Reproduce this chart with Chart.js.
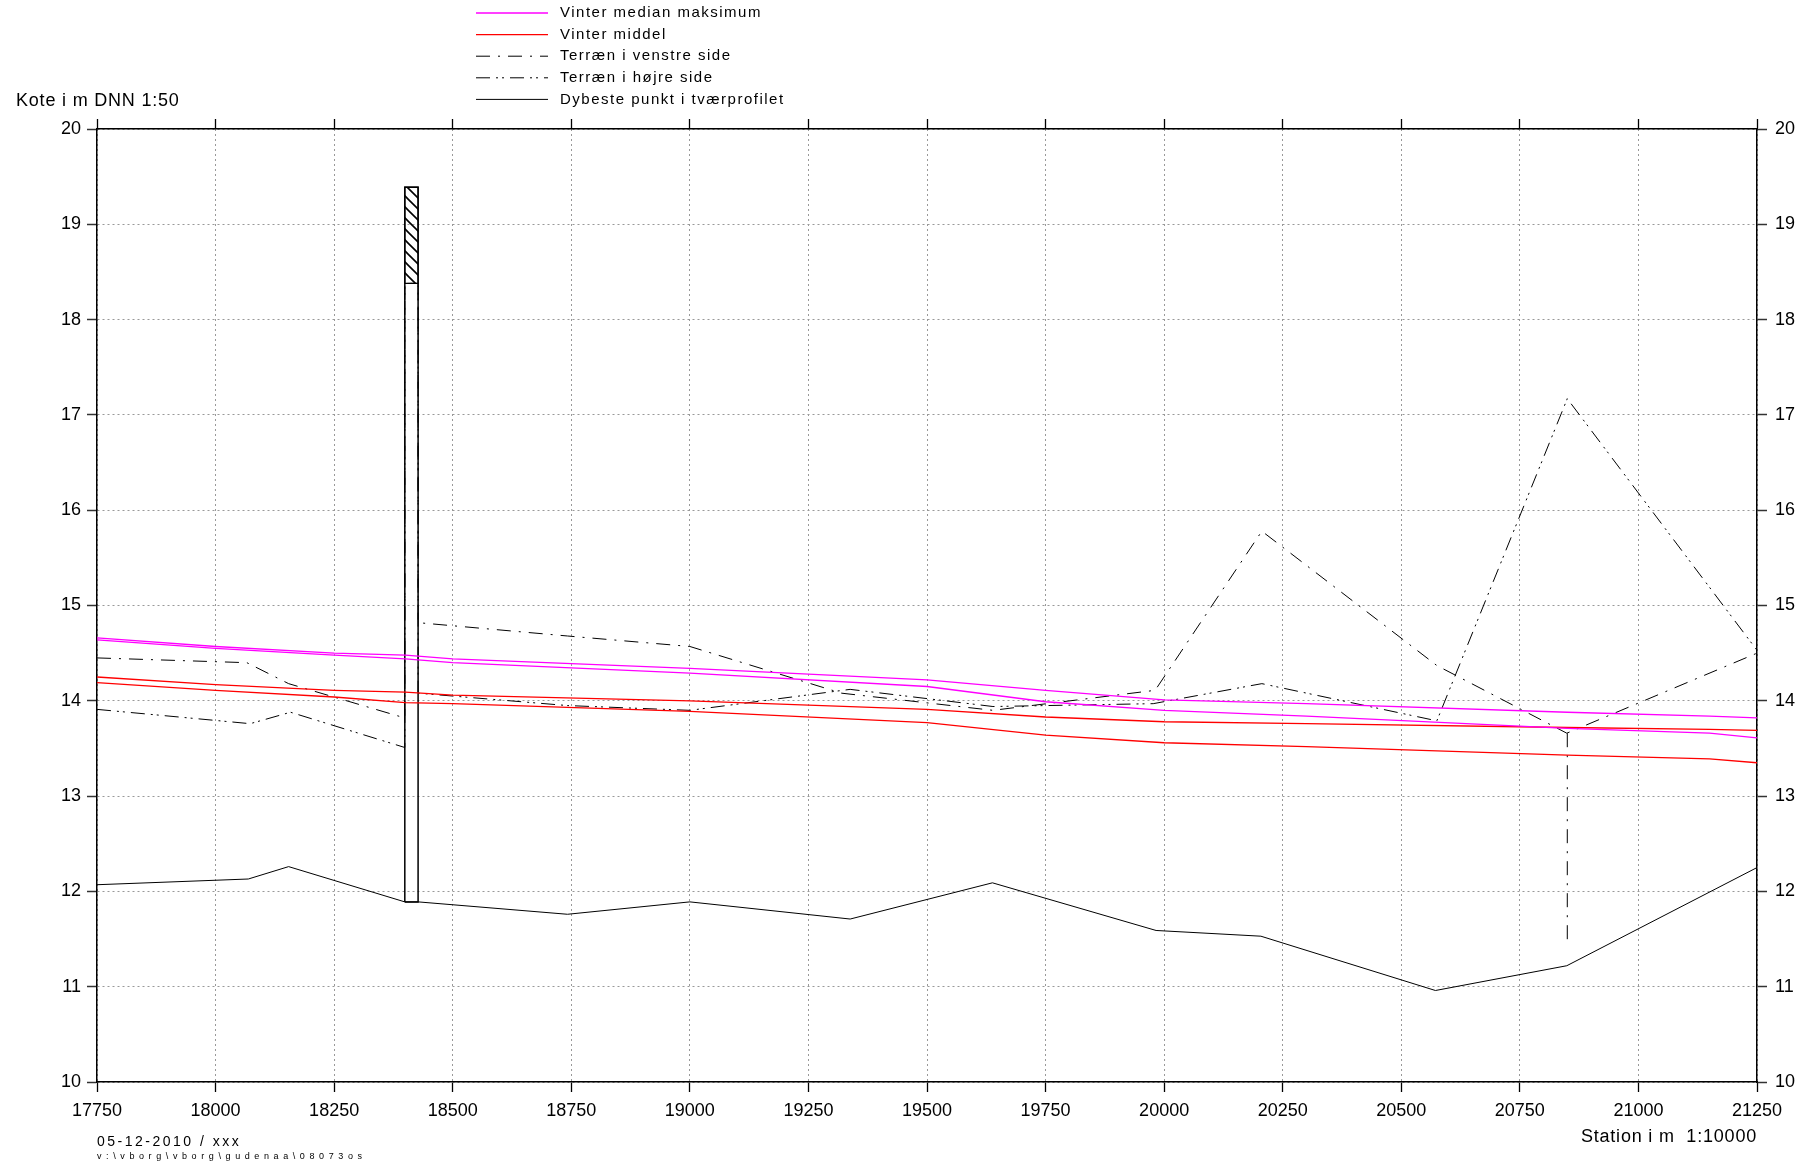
<!DOCTYPE html>
<html>
<head>
<meta charset="utf-8">
<script src="https://cdn.jsdelivr.net/npm/chart.js@4.4.0/dist/chart.umd.min.js"></script>
<style>
  html, body { margin: 0; padding: 0; background: #fff; }
</style>
</head>
<body>
<canvas id="chart" width="1809" height="1164"></canvas>
<script>
// water levels, two lines per colour (left / right bank)
const waterStations = [17750, 18000, 18250, 18400, 18500, 19000, 19500, 19750, 20000, 20300, 20850, 21150, 21250];
const medianMaxA = [14.66, 14.57, 14.50, 14.48, 14.44, 14.34, 14.22, 14.11, 14.01, 13.97, 13.88, 13.84, 13.82];
const medianMaxB = [14.64, 14.55, 14.48, 14.44, 14.40, 14.29, 14.15, 13.99, 13.90, 13.84, 13.71, 13.66, 13.61];
const middelA = [14.25, 14.17, 14.11, 14.09, 14.06, 14.00, 13.91, 13.83, 13.78, 13.76, 13.72, 13.70, 13.69];
const middelB = [14.19, 14.11, 14.04, 13.98, 13.97, 13.89, 13.77, 13.64, 13.56, 13.52, 13.43, 13.39, 13.35];

// terrain on both banks
const venstreStations = [17750, 18066, 18154, 18399, 18399, 18427, 18427, 18742, 19000, 19320, 19639, 19981, 20206, 20575, 20849, 21250];
const venstreLevels = [14.45, 14.40, 14.18, 13.82, 18.38, 18.38, 14.82, 14.68, 14.57, 14.08, 13.90, 14.11, 15.78, 14.37, 13.66, 14.50];
const hojreStations = [17750, 18073, 18158, 18399, 18399, 18427, 18427, 18742, 19000, 19338, 19639, 19977, 20206, 20575, 20850, 21250];
const hojreLevels = [13.91, 13.76, 13.88, 13.51, 18.38, 18.38, 14.08, 13.95, 13.90, 14.12, 13.94, 13.97, 14.18, 13.79, 17.17, 14.53];

// deepest point of each cross section
const dybStations = [17750, 18069, 18154, 18399, 18427, 18742, 19000, 19338, 19638, 19983, 20204, 20572, 20849, 21250];
const dybLevels = [12.07, 12.13, 12.26, 11.89, 11.89, 11.76, 11.89, 11.71, 12.09, 11.59, 11.53, 10.96, 11.22, 12.25];

// bridge outline and hatched deck
const bridgeX = [18399, 18399, 18427, 18427, 18399];
const bridgeY = [11.89, 19.39, 19.39, 11.89, 11.89];
const deckX = [18399, 18399, 18427, 18427, 18399];
const deckY = [18.38, 19.39, 19.39, 18.38, 18.38];

// vertical mark at station 20850
const markX = [20850, 20850];
const markY = [13.66, 11.49];

const xTicks = { min: 17750, max: 21250, step: 250 };
const yTicks = { min: 10, max: 20, step: 1 };

const FONT = "'Liberation Sans', Arial, sans-serif";

function toXY(xs, ys) {
    return xs.map((x, i) => ({ x: x, y: ys[i] }));
}

function hatchPattern() {
    const c = document.createElement('canvas');
    c.width = 11;
    c.height = 11;
    const g = c.getContext('2d');
    g.strokeStyle = '#000';
    g.lineWidth = 1.6;
    g.beginPath();
    g.moveTo(-2, -2); g.lineTo(13, 13);
    g.moveTo(-2, 9); g.lineTo(2, 13);
    g.moveTo(9, -2); g.lineTo(13, 2);
    g.stroke();
    return g.createPattern(c, 'repeat');
}

const dashVenstre = [14, 8, 2, 8];
const dashHojre = [14, 6, 2, 4, 2, 6];

const datasets = [
    { label: 'Vinter median maksimum', inLegend: true, data: toXY(waterStations, medianMaxA), borderColor: '#ff00ff', borderWidth: 1.3 },
    { label: 'Vinter median maksimum 2', data: toXY(waterStations, medianMaxB), borderColor: '#ff00ff', borderWidth: 1.3 },
    { label: 'Vinter middel', inLegend: true, data: toXY(waterStations, middelA), borderColor: '#ff0000', borderWidth: 1.3 },
    { label: 'Vinter middel 2', data: toXY(waterStations, middelB), borderColor: '#ff0000', borderWidth: 1.3 },
    { label: 'Terræn i venstre side', inLegend: true, data: toXY(venstreStations, venstreLevels), borderColor: '#000', borderWidth: 1, borderDash: dashVenstre },
    { label: 'Terræn i højre side', inLegend: true, data: toXY(hojreStations, hojreLevels), borderColor: '#000', borderWidth: 1, borderDash: dashHojre },
    { label: 'Dybeste punkt i tværprofilet', inLegend: true, data: toXY(dybStations, dybLevels), borderColor: '#000', borderWidth: 1 },
    { label: 'bro', data: toXY(bridgeX, bridgeY), borderColor: '#000', borderWidth: 1.5 },
    { label: 'bro dæk', data: toXY(deckX, deckY), borderColor: '#000', borderWidth: 1.2, fill: 'shape', backgroundColor: hatchPattern() },
    { label: 'mærke', data: toXY(markX, markY), borderColor: '#000', borderWidth: 1, borderDash: dashVenstre }
];

const textPlugin = {
    id: 'texts',
    afterDraw(chart) {
        const ctx = chart.ctx;
        ctx.save();
        ctx.fillStyle = '#000';
        ctx.textBaseline = 'middle';

        // legend
        let row = 0;
        chart.data.datasets.forEach(ds => {
            if (!ds.inLegend) return;
            const y = 13 + row * 21.6;
            ctx.save();
            ctx.strokeStyle = ds.borderColor;
            ctx.lineWidth = ds.borderWidth;
            ctx.setLineDash(ds.borderDash || []);
            ctx.beginPath();
            ctx.moveTo(476, y);
            ctx.lineTo(548, y);
            ctx.stroke();
            ctx.restore();
            ctx.font = '15px ' + FONT;
            ctx.letterSpacing = '1.5px';
            ctx.textAlign = 'left';
            ctx.fillText(ds.label, 560, y);
            row++;
        });

        ctx.font = '18px ' + FONT;
        ctx.letterSpacing = '0.8px';
        ctx.textAlign = 'left';
        ctx.fillText('Kote i m DNN 1:50', 16, 101);
        ctx.textAlign = 'right';
        ctx.fillText('Station i m  1:10000', 1757, 1137);

        ctx.textAlign = 'left';
        ctx.font = '14px ' + FONT;
        ctx.letterSpacing = '2.5px';
        ctx.fillText('05-12-2010 / xxx', 97, 1142);
        ctx.font = '9px ' + FONT;
        ctx.letterSpacing = '4.6px';
        ctx.fillText('v:\\vborg\\vborg\\gudenaa\\08073os', 97, 1157);
        ctx.restore();
    }
};

const tickFont = { family: FONT, size: 18 };

new Chart(document.getElementById('chart'), {
    type: 'line',
    data: { datasets: datasets },
    options: {
        responsive: false,
        animation: false,
        layout: { padding: 0 },
        elements: { point: { radius: 0 }, line: { tension: 0 } },
        plugins: { legend: { display: false }, tooltip: { enabled: false } },
        scales: {
            x: {
                type: 'linear', position: 'bottom',
                min: xTicks.min, max: xTicks.max,
                ticks: { stepSize: xTicks.step, autoSkip: false, maxRotation: 0, color: '#000', font: tickFont, padding: 8,
                    callback: v => String(v) },
                grid: { color: '#999', lineWidth: 1, tickColor: '#000', tickLength: 10, tickWidth: 1.3 },
                border: { color: '#000', width: 1.5, dash: [2, 3] },
                afterFit: s => { s.height = 82; }
            },
            xTop: {
                type: 'linear', position: 'top',
                min: xTicks.min, max: xTicks.max,
                ticks: { stepSize: xTicks.step, autoSkip: false, display: false },
                grid: { drawOnChartArea: false, tickColor: '#000', tickLength: 10, tickWidth: 1.3 },
                border: { color: '#000', width: 1.5 },
                afterFit: s => { s.height = 129; }
            },
            y: {
                position: 'left',
                min: yTicks.min, max: yTicks.max,
                ticks: { stepSize: yTicks.step, color: '#000', font: tickFont, padding: 6 },
                grid: { color: '#999', lineWidth: 1, tickColor: '#333', tickLength: 10, tickWidth: 1.5 },
                border: { color: '#000', width: 1.5, dash: [2, 3] },
                afterFit: s => { s.width = 97; }
            },
            y2: {
                position: 'right',
                min: yTicks.min, max: yTicks.max,
                ticks: { stepSize: yTicks.step, color: '#000', font: tickFont, padding: 8 },
                grid: { drawOnChartArea: false, tickColor: '#333', tickLength: 10, tickWidth: 1.5 },
                border: { color: '#000', width: 1.5 },
                afterFit: s => { s.width = 52; }
            }
        }
    },
    plugins: [textPlugin]
});
</script>
</body>
</html>
